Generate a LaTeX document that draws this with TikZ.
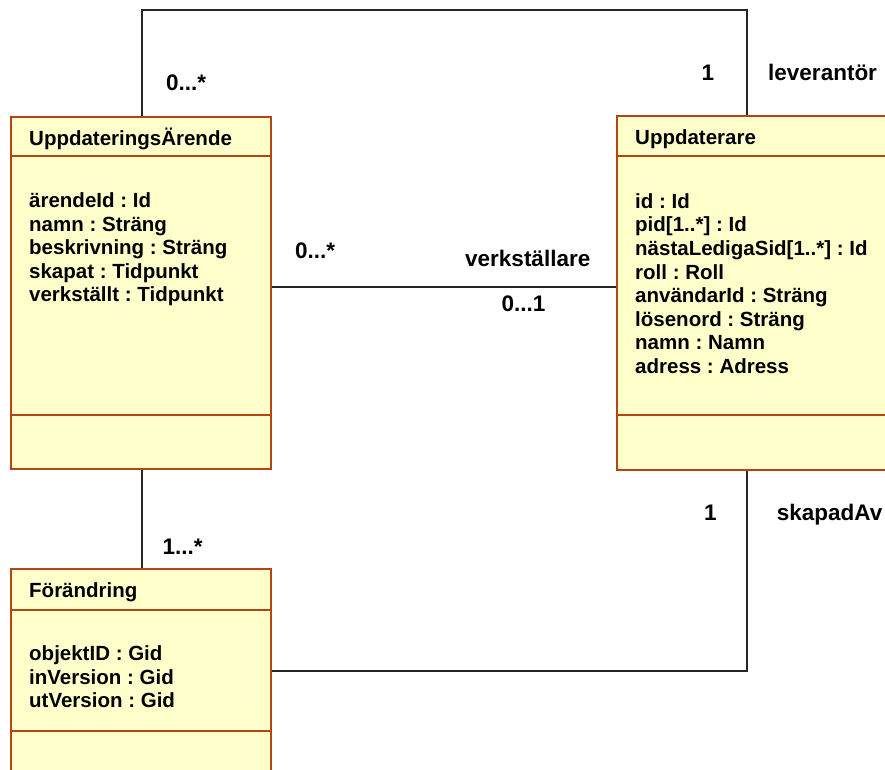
\documentclass[tikz,border=0pt]{standalone}
\usepackage{fontspec}
\setmainfont{Liberation Sans}
\definecolor{boxfill}{RGB}{255,255,204}
\definecolor{boxline}{RGB}{180,70,20}
\begin{document}
\frenchspacing
\begin{tikzpicture}[x=1pt,y=-1pt,
  classbox/.style={draw=boxline,fill=boxfill,line width=1.6pt,inner sep=0pt,anchor=north west},
  divider/.style={draw=boxline,line width=1.6pt},
  conn/.style={draw=black!85,line width=1.6pt},
  attr/.style={anchor=base west,inner sep=0pt,font=\frenchspacing\bfseries\fontsize{20.5}{23.5}\selectfont},
  lbl/.style={anchor=base west,inner sep=0pt,font=\frenchspacing\bfseries\fontsize{22.5}{26}\selectfont}]
\useasboundingbox (0,0) rectangle (885,769);
\clip (0,0) rectangle (885,769);

% class boxes
\node[classbox,minimum width=260pt,minimum height=352pt] (ua) at (10,116) {};
\node[classbox,minimum width=290pt,minimum height=354pt] (up) at (616,115) {};
\node[classbox,minimum width=260pt,minimum height=230pt] (fo) at (10,568) {};

% dividers
\draw[divider] (ua.west |- 0,156) -- (ua.east |- 0,156);
\draw[divider] (ua.west |- 0,415) -- (ua.east |- 0,415);
\draw[divider] (up.west |- 0,156) -- (up.east |- 0,156);
\draw[divider] (up.west |- 0,415) -- (up.east |- 0,415);
\draw[divider] (fo.west |- 0,610) -- (fo.east |- 0,610);
\draw[divider] (fo.west |- 0,731) -- (fo.east |- 0,731);

% titles
\node[attr] (uat) at (29,145.7) {UppdateringsÄrende};
\node[attr] (upt) at (635,144.3) {Uppdaterare};
\node[attr] (fot) at (29,597.3) {Förändring};

% attributes
\foreach \t [count=\i from 0] in {ärendeId : Id, namn : Sträng, beskrivning : Sträng, skapat : Tidpunkt, verkställt : Tidpunkt}
  \node[attr] (ua-a\i) at (29,{207.5+23.5*\i}) {\t};
\foreach \t [count=\i from 0] in {id : Id, pid[1..*] : Id, nästaLedigaSid[1..*] : Id, roll : Roll, användarId : Sträng, lösenord : Sträng, namn : Namn, adress : Adress}
  \node[attr] (up-a\i) at (635,{208.3+23.6*\i}) {\t};
\foreach \t [count=\i from 0] in {objektID : Gid, inVersion : Gid, utVersion : Gid}
  \node[attr] (fo-a\i) at (29,{660.7+23.6*\i}) {\t};

% connectors
\coordinate (topL) at (142,10);
\coordinate (topR) at (747,10);
\coordinate (mid) at (440,287);
\coordinate (corner) at (747,671);
\draw[conn] (topL |- ua.north) -- (topL) -- (topR) -- (topR |- up.north);
\draw[conn] (ua.east |- mid) -- (up.west |- mid);
\draw[conn] (topL |- ua.south) -- (topL |- fo.north);
\draw[conn] (topR |- up.south) -- (corner) -- (corner -| fo.east);

% labels
\node[lbl] (l1) at (166,90) {0...*};
\node[lbl] (l2) at (701.5,80) {1};
\node[lbl] (l3) at (768,80) {leverantör};
\node[lbl] (l4) at (295,258.3) {0...*};
\node[lbl] (l5) at (465,266.7) {verkställare};
\node[lbl] (l6) at (501.5,311) {0...1};
\node[lbl] (l7) at (162.3,554) {1...*};
\node[lbl] (l8) at (704,520) {1};
\node[lbl] (l9) at (776.7,520) {skapadAv};
\end{tikzpicture}
\end{document}
